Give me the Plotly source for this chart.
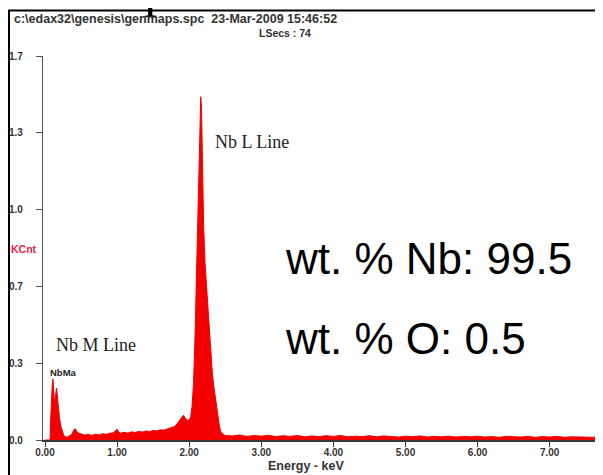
import plotly.graph_objects as go

# ---- data ----
energy_kev = [
    0.00, 0.07, 0.08, 0.09, 0.10, 0.11, 0.12, 0.13, 0.14, 0.15, 0.16, 0.17, 0.18, 0.19, 0.20,
    0.22, 0.24, 0.26, 0.28, 0.30, 0.32, 0.35, 0.38, 0.40, 0.42, 0.44, 0.47, 0.50, 0.55, 0.60,
    0.65, 0.70, 0.75, 0.80, 0.85, 0.90, 0.95, 1.00, 1.02, 1.05, 1.10, 1.15, 1.20, 1.25, 1.30,
    1.35, 1.40, 1.45, 1.50, 1.55, 1.60, 1.65, 1.70, 1.75, 1.80, 1.84, 1.87, 1.90, 1.92, 1.94,
    1.96, 1.98, 2.00, 2.02, 2.04, 2.06, 2.08, 2.10, 2.12, 2.14, 2.15, 2.16, 2.17, 2.18, 2.19,
    2.20, 2.22, 2.24, 2.26, 2.28, 2.30, 2.32, 2.34, 2.36, 2.38, 2.40, 2.42, 2.44, 2.47, 2.50,
    2.60, 2.70, 2.80, 2.90, 3.00, 3.10, 3.20, 3.30, 3.40, 3.50, 3.60, 3.70, 3.80, 3.90, 4.00,
    4.10, 4.20, 4.30, 4.40, 4.50, 4.60, 4.70, 4.80, 4.90, 5.00, 5.10, 5.20, 5.30, 5.40, 5.50,
    5.60, 5.70, 5.80, 5.90, 6.00, 6.10, 6.20, 6.30, 6.40, 6.50, 6.60, 6.70, 6.80, 6.90, 7.00,
    7.10, 7.20, 7.30, 7.40, 7.50, 7.60, 7.70, 7.80,
]
counts_kcnt = [
    0.000, 0.000, 0.100, 0.200, 0.240, 0.270, 0.190, 0.170, 0.180, 0.210, 0.230, 0.200, 0.160, 0.130, 0.100,
    0.060, 0.035, 0.020, 0.015, 0.012, 0.015, 0.020, 0.030, 0.045, 0.050, 0.038, 0.030, 0.028, 0.022, 0.025,
    0.020, 0.026, 0.022, 0.028, 0.025, 0.030, 0.032, 0.048, 0.035, 0.030, 0.034, 0.030, 0.036, 0.033, 0.038,
    0.035, 0.040, 0.037, 0.042, 0.040, 0.045, 0.044, 0.050, 0.055, 0.060, 0.075, 0.090, 0.105, 0.110, 0.100,
    0.090, 0.085, 0.090, 0.100, 0.150, 0.250, 0.450, 0.700, 0.950, 1.250, 1.400, 1.520, 1.480, 1.300, 1.100,
    0.950, 0.780, 0.680, 0.550, 0.450, 0.380, 0.300, 0.240, 0.190, 0.150, 0.100, 0.060, 0.035, 0.025, 0.020,
    0.018, 0.022, 0.016, 0.020, 0.017, 0.021, 0.015, 0.019, 0.016, 0.020, 0.014, 0.018, 0.015, 0.019, 0.016,
    0.020, 0.014, 0.017, 0.015, 0.019, 0.014, 0.018, 0.016, 0.013, 0.017, 0.015, 0.018, 0.013, 0.016, 0.014,
    0.017, 0.013, 0.016, 0.014, 0.017, 0.013, 0.015, 0.012, 0.016, 0.014, 0.013, 0.016, 0.012, 0.015, 0.013,
    0.016, 0.012, 0.014, 0.013, 0.015, 0.012, 0.014, 0.013,
]
y_tick_vals = [0.0, 0.34, 0.68, 1.02, 1.36, 1.70]
y_tick_text = ["0.0", "0.3", "0.7", "1.0", "1.3", "1.7"]
x_tick_vals = [0, 1, 2, 3, 4, 5, 6, 7]
x_tick_text = ["0.00", "1.00", "2.00", "3.00", "4.00", "5.00", "6.00", "7.00"]

# the page shows the figure offset by the default 8px body margin
OFF = 8
W, H = 603, 475
ML, MR, MT, MB = 35, 0, 48, 43
PW, PH = W - ML - MR, H - MT - MB
KEV_PX = 72.1


def px(page_x):
    return (page_x - OFF - ML) / PW


def py(page_y):
    return (H - MB - (page_y - OFF)) / PH


fig = go.Figure()
fig.add_trace(go.Scatter(
    x=energy_kev, y=counts_kcnt, mode="lines",
    line=dict(color="#f00000", width=1),
    fill="tozeroy", fillcolor="#f40000",
    hoverinfo="skip", showlegend=False,
))

tick_font = dict(family="Arial, Liberation Sans", size=10, color="#333333", weight="bold")
x0 = -2 / KEV_PX

fig.update_layout(
    width=W, height=H,
    margin=dict(l=ML, r=MR, t=MT, b=MB, pad=0, autoexpand=False),
    paper_bgcolor="white", plot_bgcolor="white",
    showlegend=False,
    xaxis=dict(
        range=[x0, x0 + PW / KEV_PX],
        automargin=False,
        showgrid=False, zeroline=False,
        showline=True, linecolor="#3a3a3a", linewidth=1.5,
        ticks="outside", ticklen=5, tickcolor="#3a3a3a", tickwidth=1,
        tickvals=x_tick_vals, ticktext=x_tick_text,
        tickfont=tick_font, ticklabelstandoff=-3,
    ),
    yaxis=dict(
        range=[0, 1.7],
        automargin=False,
        showgrid=False, zeroline=False,
        showline=True, linecolor="#555555", linewidth=1.2,
        ticks="outside", ticklen=6, tickcolor="#555555", tickwidth=1,
        tickvals=y_tick_vals, ticktext=y_tick_text,
        tickfont=tick_font, ticklabelstandoff=11,
    ),
)

annots = [
    dict(text="EDS Spectrum", x=px(2), y=py(-12), xanchor="left", yanchor="middle",
         font=dict(family="Liberation Serif, Times New Roman", size=52, color="black")),
    dict(text="c:\\edax32\\genesis\\genmaps.spc  23-Mar-2009 15:46:52", x=px(12), y=py(19), xanchor="left", yanchor="middle",
         font=dict(family="Arial, Liberation Sans", size=12.5, color="#333333", weight="bold")),
    dict(text="LSecs : 74", x=px(257), y=py(33), xanchor="left", yanchor="middle",
         font=dict(family="Arial, Liberation Sans", size=10.5, color="#333333", weight="bold")),
    dict(text="KCnt", x=px(9), y=py(249), xanchor="left", yanchor="middle",
         font=dict(family="Arial, Liberation Sans", size=10.5, color="#e8204a", weight="bold")),
    dict(text="Nb L Line", x=px(213), y=py(142), xanchor="left", yanchor="middle",
         font=dict(family="Liberation Serif, Times New Roman", size=18, color="#222222")),
    dict(text="Nb M Line", x=px(54), y=py(345), xanchor="left", yanchor="middle",
         font=dict(family="Liberation Serif, Times New Roman", size=18, color="#222222")),
    dict(text="NbMa", x=px(48), y=py(372), xanchor="left", yanchor="middle",
         font=dict(family="Arial, Liberation Sans", size=9.5, color="#222222", weight="bold")),
    dict(text="wt. % Nb: 99.5", x=px(283), y=py(258), xanchor="left", yanchor="middle",
         font=dict(family="Arial, Liberation Sans", size=44, color="black")),
    dict(text="wt. % O: 0.5", x=px(283), y=py(338), xanchor="left", yanchor="middle",
         font=dict(family="Arial, Liberation Sans", size=44, color="black")),
    dict(text="Energy - keV", x=px(306), y=py(466), xanchor="center", yanchor="middle",
         font=dict(family="Arial, Liberation Sans", size=12.5, color="#333333", weight="bold")),
]
for a in annots:
    a.update(xref="paper", yref="paper", showarrow=False)
fig.update_layout(annotations=annots)

fig.update_layout(shapes=[
    dict(type="line", xref="paper", yref="paper", x0=px(8), x1=px(611), y0=py(10.5), y1=py(10.5),
         line=dict(color="black", width=2)),
    dict(type="line", xref="paper", yref="paper", x0=px(9), x1=px(9), y0=py(10), y1=py(483),
         line=dict(color="black", width=2)),
])

fig.write_html("out.html")
